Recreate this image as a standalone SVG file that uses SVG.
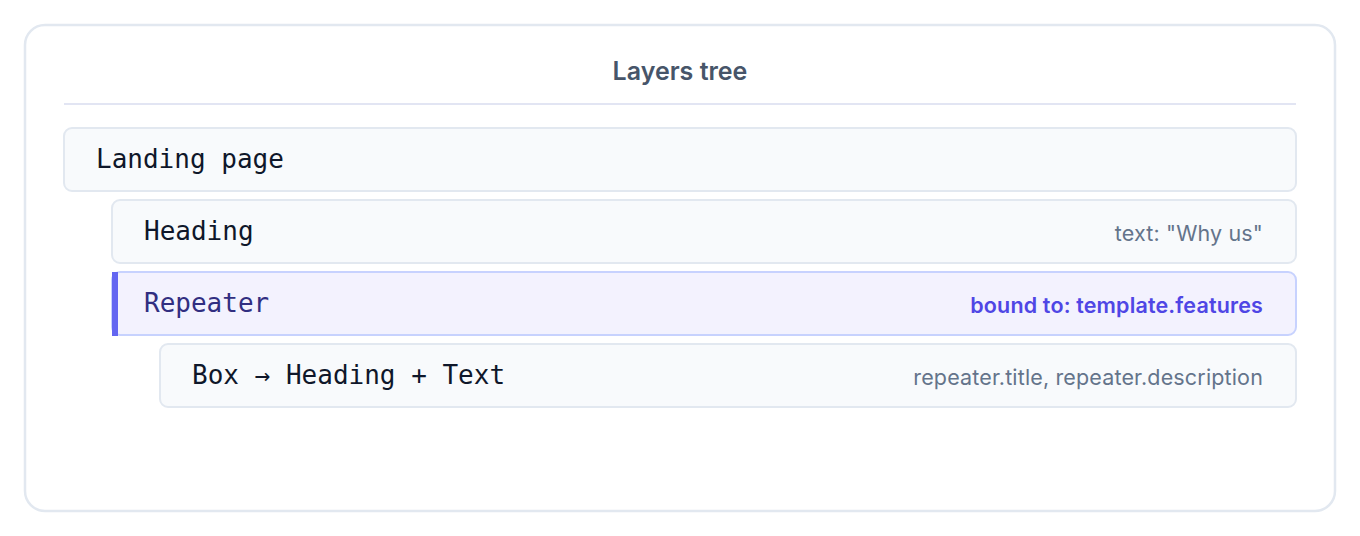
<svg xmlns="http://www.w3.org/2000/svg" width="1360" height="536" viewBox="0 0 1360 536">
<style>
.row{fill:#f8fafc;stroke:#e2e8f0;stroke-width:2}
.mono{font-family:"DejaVu Sans Mono","Liberation Mono",monospace;font-size:26px;fill:#0f172a}
.meta{font-family:Inter,"Liberation Sans",sans-serif;font-size:21.5px;letter-spacing:0.15px;fill:#64748b;text-anchor:end}
</style>
<rect x="0" y="0" width="1360" height="536" fill="#ffffff"/>
<g id="frame">
<rect x="25" y="25" width="1310" height="486" rx="20" fill="#ffffff" stroke="#e2e8f0" stroke-width="2.5"/>
<text x="680" y="80" text-anchor="middle" font-family="Inter,'Liberation Sans',sans-serif" font-size="25" font-weight="600" fill="#475569">Layers tree</text>
<line x1="64" y1="104" x2="1296" y2="104" stroke="#e2e5f3" stroke-width="2"/>
</g>
<g id="connectors"></g>
<g id="landing">
<rect class="row" x="64" y="128" width="1232" height="63" rx="8"/>
<text class="mono" x="96" y="168">Landing page</text>
</g>
<g id="heading">
<rect class="row" x="112" y="200" width="1184" height="63" rx="8"/>
<text class="mono" x="144" y="240">Heading</text>
<text class="meta" x="1263" y="241">text: "Why us"</text>
</g>
<g id="repeater">
<rect x="112" y="272" width="1184" height="63" rx="8" fill="#f3f2fe" stroke="#c7d2fe" stroke-width="2"/>
<rect x="112" y="272" width="6" height="64" fill="#6366f1"/>
<text class="mono" x="144" y="312" style="fill:#312e81">Repeater</text>
<text class="meta" x="1263" y="313" style="fill:#4f46e5;font-weight:600">bound to: template.features</text>
</g>
<g id="box">
<rect class="row" x="160" y="344" width="1136" height="63" rx="8"/>
<text class="mono" x="192" y="384">Box → Heading + Text</text>
<text class="meta" x="1263" y="385">repeater.title, repeater.description</text>
</g>
</svg>
